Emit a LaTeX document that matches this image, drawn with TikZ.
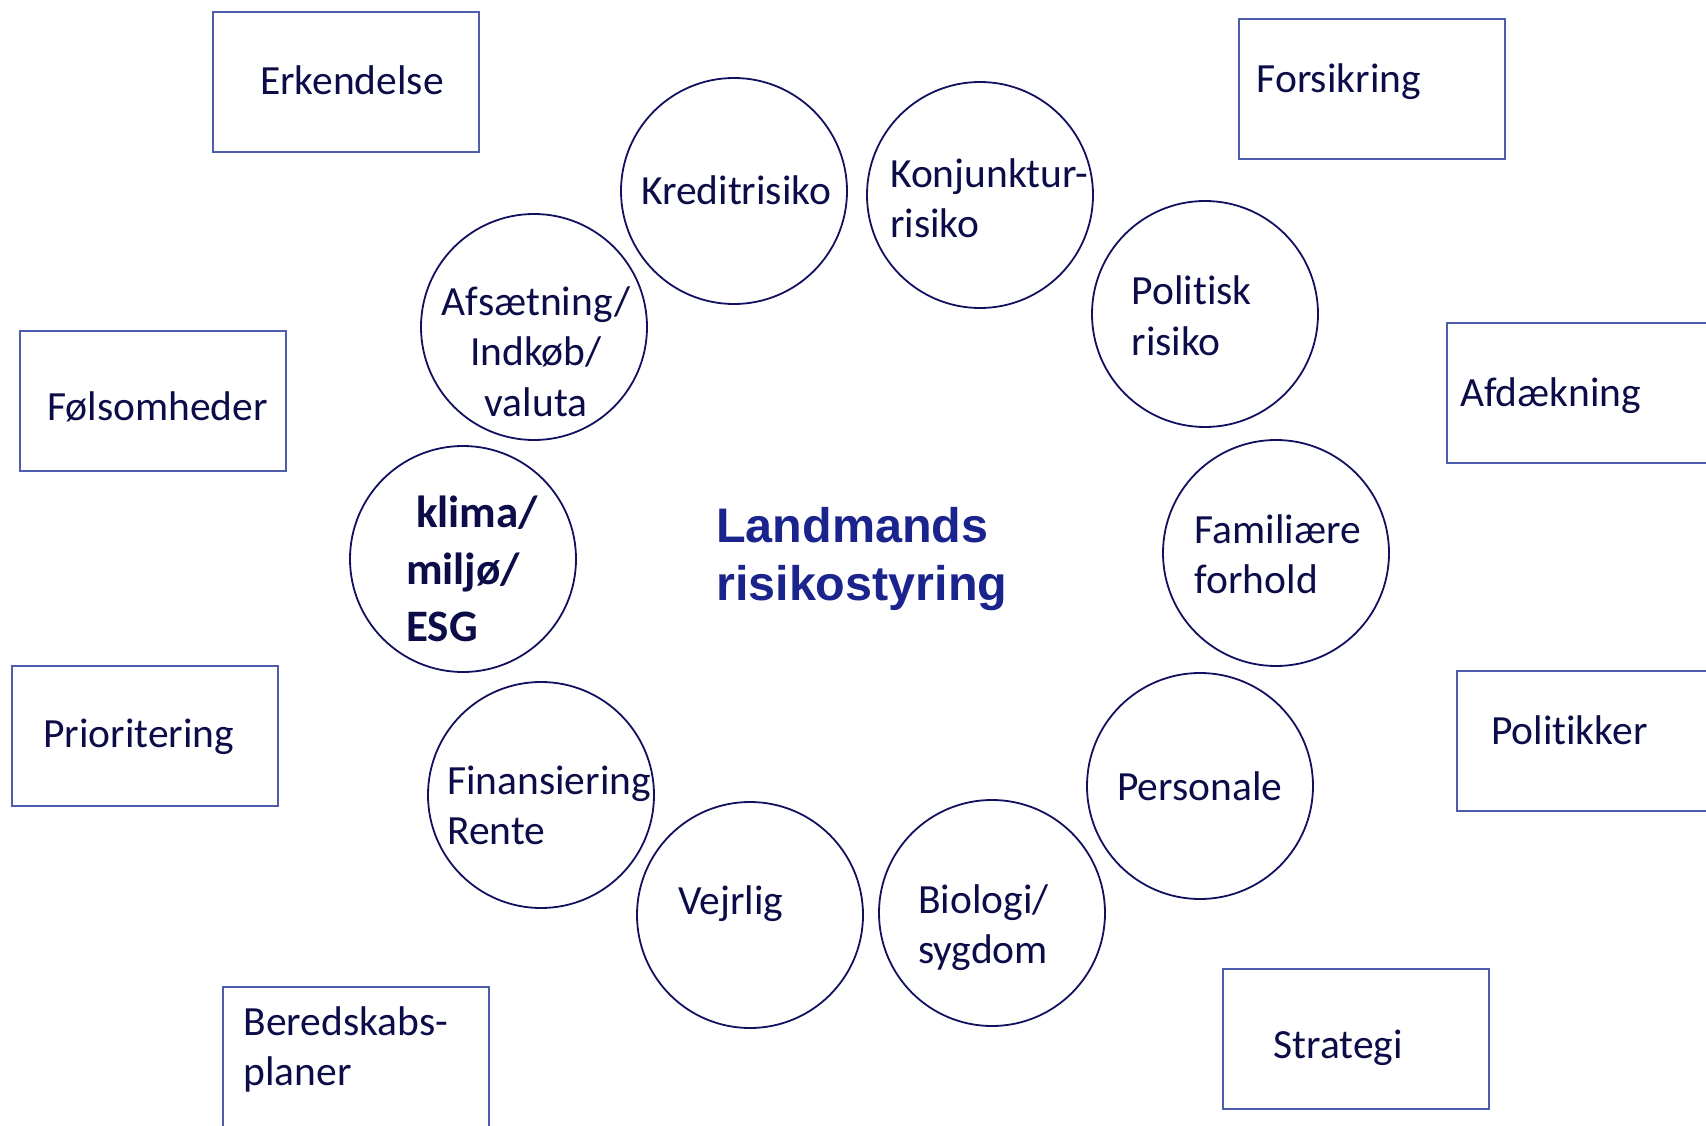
\documentclass[tikz,border=0pt]{standalone}
\usepackage{fontspec}
\setmainfont{Carlito}[Ligatures=NoCommon]
\newfontfamily\titlefont{Liberation Sans}
\usetikzlibrary{positioning}

\definecolor{ink}{HTML}{0C0C48}
\definecolor{ringblue}{HTML}{111160}
\definecolor{boxblue}{HTML}{4E5CAC}
\definecolor{titleblue}{HTML}{1A248C}

\tikzset{
  risk/.style={circle,draw=ringblue,line width=1.8pt,minimum size=226pt,inner sep=0pt},
  tool/.style={rectangle,draw=boxblue,line width=1.6pt,minimum width=266pt,
    minimum height=140pt,inner sep=0pt},
  lbl/.style={anchor=base west,inner sep=0pt,text=ink,align=left,
    font=\fontsize{41.5}{50.5}\selectfont},
}

\begin{document}
\begin{tikzpicture}[x=1pt,y=-1pt]
\useasboundingbox (0,0) rectangle (1706,1126);
\clip (0,0) rectangle (1706,1126);

% tools round the edge
\node[tool] (erk) at (346,82) {};
\node[tool] (fors) at (1372,89) {};
\node[tool] (fols) at (153,401) {};
\node[tool] (afd) at (1580,393) {};
\node[tool] (prio) at (145,736) {};
\node[tool] (polk) at (1590,741) {};
\node[tool] (bered) at (356,1057) {};
\node[tool] (strat) at (1356,1039) {};

% (multi-line labels sit on the baseline of their last line)
\node[lbl] (erk-t) at (260,95) {Erkendelse};
\node[lbl] (fors-t) at (1256.6,92.7) {Forsikring};
\node[lbl] (fols-t) at (47,420.7) {Følsomheder};
\node[lbl] (afd-t) at (1460,406.7) {Afdækning};
\node[lbl] (prio-t) at (43.3,747.3) {Prioritering};
\node[lbl] (polk-t) at (1490.8,744.3) {Politikker};
\node[lbl] (bered-t) at (243.3,1085.5) {Beredskabs-\\planer};
\node[lbl] (strat-t) at (1273.3,1058.3) {Strategi};

% the risks
\node[risk] (kredit) at (734,191) {};
\node[risk] (konj) at (980,195) {};
\node[risk] (polit) at (1205,314) {};
\node[risk] (famil) at (1276,553) {};
\node[risk] (person) at (1200,786) {};
\node[risk] (bio) at (992,913) {};
\node[risk] (vejr) at (750,915) {};
\node[risk] (finans) at (541,795) {};
\node[risk] (klima) at (463,559) {};
\node[risk] (afsaet) at (534,327) {};

\node[lbl] (kredit-t) at (641,205) {Kreditrisiko};
\node[lbl] (konj-t) at (890,237.5) {Konjunktur-\\risiko};
\node[lbl] (polit-t) at (1131.5,355) {Politisk\\risiko};
\node[lbl] (famil-t) at (1194.6,593.5) {Familiære\\forhold};
\node[lbl] (person-t) at (1117,800.7) {Personale};
\node[lbl] (bio-t) at (918,963.5) {Biologi/\\sygdom};
\node[lbl] (vejr-t) at (678,914) {Vejrlig};
\node[lbl] (finans-t) at (447,844.5) {Finansiering\\Rente};
\node[lbl,font=\fontsize{45}{57}\selectfont\bfseries] (klima-t) at (406,641)
  {\hspace*{10pt}klima/\\miljø/\\ESG};
\node[lbl,anchor=base,align=center] (afsaet-t) at (536,416) {Afsætning/\\Indkøb/\\valuta};

\node[anchor=base west,inner sep=0pt,align=left,text=titleblue,
  font=\titlefont\bfseries\fontsize{48.5}{58}\selectfont] (title) at (716,600)
  {Landmands\\risikostyring};
\end{tikzpicture}
\end{document}
